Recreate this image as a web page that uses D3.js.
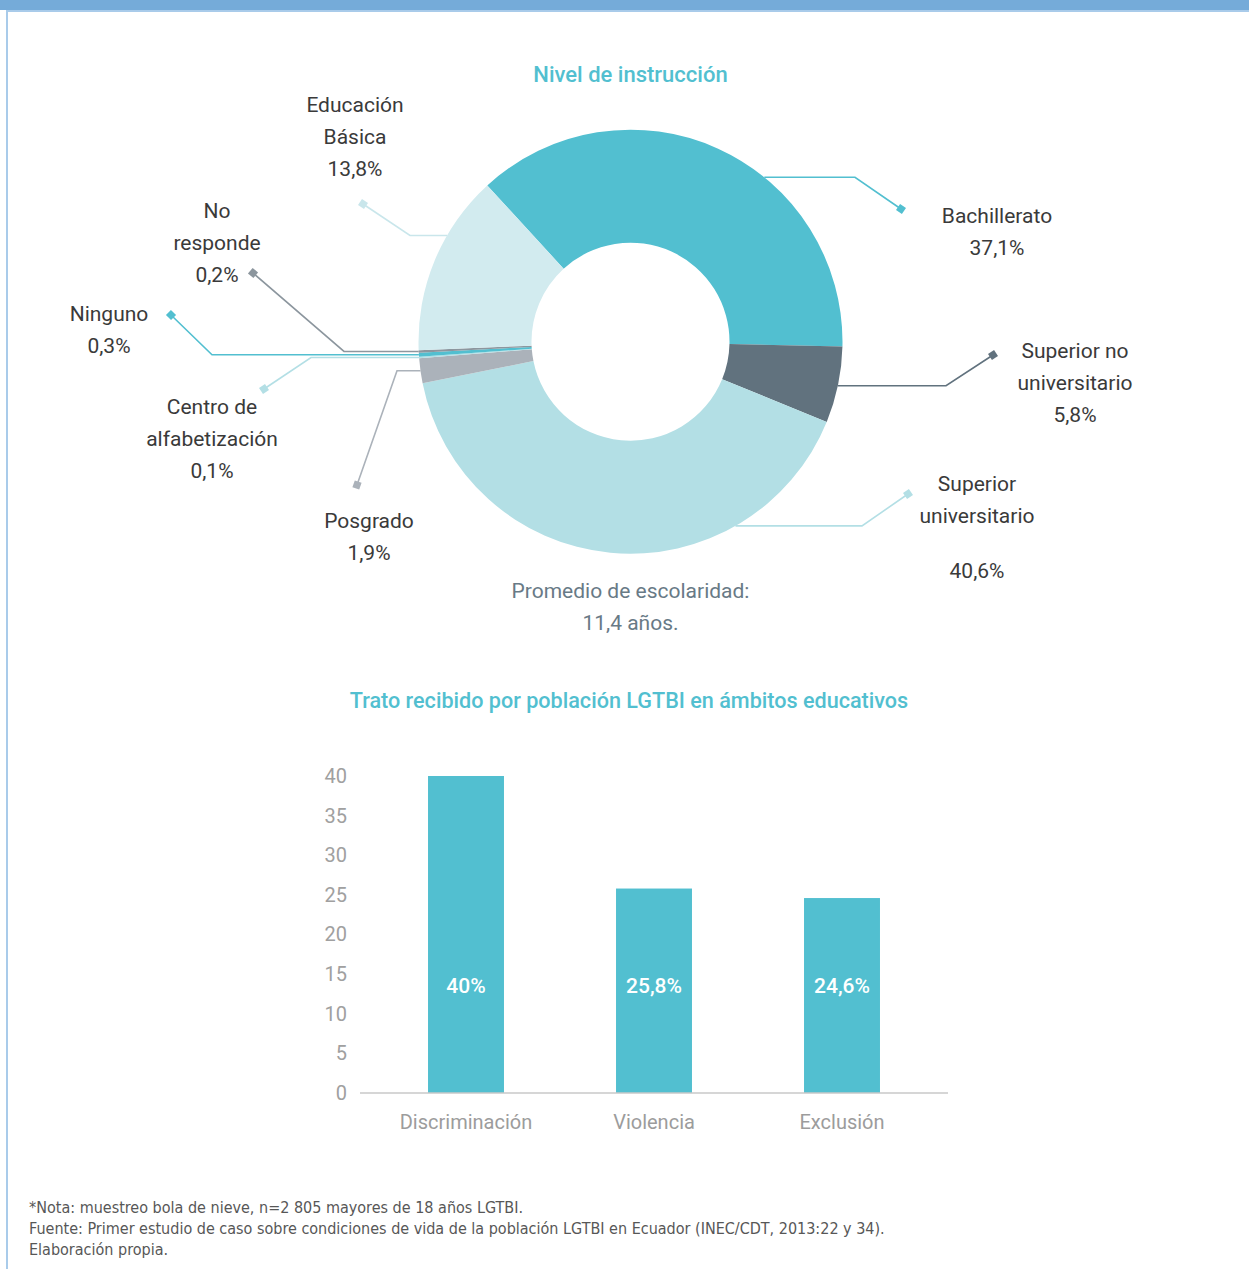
<!DOCTYPE html>
<html lang="es">
<head>
<meta charset="utf-8">
<title>Nivel de instrucción y trato recibido por población LGTBI</title>
<script src="https://cdn.jsdelivr.net/npm/d3@7/dist/d3.min.js"></script>
<style>
  html, body { margin: 0; padding: 0; background: #ffffff; }
  svg { display: block; }
  text { font-family: Roboto, "Noto Sans", "DejaVu Sans", sans-serif; }
  .foot { font-family: "Liberation Sans Narrow", "DejaVu Sans Condensed", "Liberation Sans", sans-serif; }
</style>
</head>
<body>
<svg id="chart" width="1249" height="1269"></svg>
<script>
// ---- Nivel de instrucción (porcentaje) ----
const levelNames = [
  "Bachillerato",
  "Superior no universitario",
  "Superior universitario",
  "Posgrado",
  "Centro de alfabetización",
  "Ninguno",
  "No responde",
  "Educación Básica"
];
const levelShares = [37.1, 5.8, 40.6, 1.9, 0.1, 0.3, 0.2, 13.8];
const levelLabelLines = [
  ["Bachillerato"],
  ["Superior no", "universitario"],
  ["Superior", "universitario"],
  ["Posgrado"],
  ["Centro de", "alfabetización"],
  ["Ninguno"],
  ["No", "responde"],
  ["Educación", "Básica"]
];
const averageSchooling = ["Promedio de escolaridad:", "11,4 años."];

// ---- Trato recibido en ámbitos educativos (porcentaje) ----
const treatmentCategories = ["Discriminación", "Violencia", "Exclusión"];
const treatmentValues = [40, 25.8, 24.6];
const yTickValues = [0, 5, 10, 15, 20, 25, 30, 35, 40];

const footnotes = [
  "*Nota: muestreo bola de nieve, n=2 805 mayores de 18 años LGTBI.",
  "Fuente: Primer estudio de caso sobre condiciones de vida de la población LGTBI en Ecuador (INEC/CDT, 2013:22 y 34).",
  "Elaboración propia."
];

// ---- styling ----
const sliceColors = ["#52bfd0", "#61727e", "#b3dfe5", "#abb2ba", "#b3dfe5", "#52bfd0", "#8c969e", "#d2ebef"];
const leaderColors = ["#52bfd0", "#61727e", "#b3dfe5", "#abb2ba", "#b3dfe5", "#52bfd0", "#8c969e", "#c9e6eb"];
const fmt = v => d3.format(".1f")(v).replace(".", ",") + "%";

// label placement around the donut: where the leader leaves the slice (fraction of its arc),
// where it bends, where it ends, and where the text block sits
const labelLayout = [
  { t: 0.61, elbowX: 855, end: [901, 209], text: [997, 216], gap: 0 },
  { t: 0.51, elbowX: 946, end: [993, 355], text: [1075, 351], gap: 0 },
  { t: 0.26, elbowX: 862, end: [908, 494], text: [977, 484], gap: 23 },
  { t: 0.50, elbowX: 397, end: [357, 485], text: [369, 521], gap: 0 },
  { t: 0.50, elbowX: 311, end: [264, 389], text: [212, 407], gap: 0 },
  { t: 0.50, elbowX: 212, end: [171, 315], text: [109, 314], gap: 0 },
  { t: 0.50, elbowX: 344, end: [253, 273], text: [217, 211], gap: 0 },
  { t: 0.65, elbowX: 410, end: [363, 204], text: [355, 105], gap: 0 }
];

const svg = d3.select("#chart");

// page frame
svg.append("rect").attr("x", 0).attr("y", 0).attr("width", 1249).attr("height", 10).attr("fill", "#75abd9");
svg.append("rect").attr("x", 6).attr("y", 10).attr("width", 1243).attr("height", 2).attr("fill", "#a9cbea");
svg.append("rect").attr("x", 6).attr("y", 10).attr("width", 2).attr("height", 1259).attr("fill", "#a9cbea");

// ================= Donut =================
const cx = 630.5, cy = 341.7, rOuter = 212, rInner = 99;
const pie = d3.pie().sort(null).value(d => d)
  .startAngle(-42.5 * Math.PI / 180)
  .endAngle((360 - 42.5) * Math.PI / 180);
const arcs = pie(levelShares);
const arc = d3.arc().innerRadius(rInner).outerRadius(rOuter);

svg.append("text")
  .attr("x", cx).attr("y", 74).attr("dy", "0.35em")
  .attr("text-anchor", "middle")
  .attr("fill", "#52bfd0").attr("font-size", 22).attr("font-weight", 500)
  .text("Nivel de instrucción");

const donut = svg.append("g").attr("transform", `translate(${cx},${cy})`);
donut.selectAll("path.slice").data(arcs).enter().append("path")
  .attr("class", "slice")
  .attr("d", arc)
  .attr("fill", (d, i) => sliceColors[i]);

// leaders and labels
const leaders = svg.append("g");
arcs.forEach((a, i) => {
  const L = labelLayout[i];
  const ang = a.startAngle + L.t * (a.endAngle - a.startAngle);
  const sx = cx + rOuter * Math.sin(ang);
  const sy = cy - rOuter * Math.cos(ang);
  const [ex, ey] = L.end;
  const col = leaderColors[i];
  leaders.append("path")
    .attr("d", d3.line()([[sx, sy], [L.elbowX, sy], [ex, ey]]))
    .attr("fill", "none").attr("stroke", col).attr("stroke-width", 1.6);
  const rot = Math.atan2(ey - sy, ex - L.elbowX) * 180 / Math.PI;
  leaders.append("rect")
    .attr("x", -3.6).attr("y", -3.6).attr("width", 7.2).attr("height", 7.2)
    .attr("fill", col)
    .attr("transform", `translate(${ex},${ey}) rotate(${rot})`);

  const lines = levelLabelLines[i].concat([fmt(levelShares[i])]);
  const txt = svg.append("text")
    .attr("text-anchor", "middle")
    .attr("fill", "#3a3a3a").attr("font-size", 21);
  lines.forEach((ln, k) => {
    const extra = (k === lines.length - 1) ? L.gap : 0;
    txt.append("tspan")
      .attr("x", L.text[0])
      .attr("y", L.text[1] + k * 32 + extra)
      .attr("dy", "0.35em")
      .text(ln);
  });
});

averageSchooling.forEach((ln, k) => {
  svg.append("text")
    .attr("x", cx).attr("y", 591 + k * 32).attr("dy", "0.35em")
    .attr("text-anchor", "middle")
    .attr("fill", "#687a86").attr("font-size", 21)
    .text(ln);
});

// ================= Bars =================
svg.append("text")
  .attr("x", 629).attr("y", 700).attr("dy", "0.35em")
  .attr("text-anchor", "middle")
  .attr("fill", "#52bfd0").attr("font-size", 21.6).attr("font-weight", 500)
  .text("Trato recibido por población LGTBI en ámbitos educativos");

const x = d3.scaleBand()
  .domain(treatmentCategories)
  .range([372, 936])
  .paddingInner(0.596)
  .paddingOuter(0.298);
const y = d3.scaleLinear().domain([0, 40]).range([1093, 776]);

// y tick labels
const yAxis = d3.axisLeft(y).tickValues(yTickValues).tickSize(0).tickPadding(0).tickFormat(d3.format("d"));
const yG = svg.append("g").attr("transform", "translate(347,0)").call(yAxis);
yG.select(".domain").remove();
yG.selectAll("text")
  .attr("fill", "#a0a0a0").attr("font-size", 20)
  .attr("font-family", "Roboto, 'Noto Sans', sans-serif");

// bars
svg.selectAll("rect.bar").data(treatmentValues).enter().append("rect")
  .attr("class", "bar")
  .attr("x", (d, i) => x(treatmentCategories[i]))
  .attr("width", x.bandwidth())
  .attr("y", d => y(d))
  .attr("height", d => y(0) - y(d))
  .attr("fill", "#52bfd0");

// value labels inside bars
const labelLevel = 13.6;
svg.selectAll("text.val").data(treatmentValues).enter().append("text")
  .attr("class", "val")
  .attr("x", (d, i) => x(treatmentCategories[i]) + x.bandwidth() / 2)
  .attr("y", y(labelLevel)).attr("dy", "0.35em")
  .attr("text-anchor", "middle")
  .attr("fill", "#ffffff").attr("font-size", 21).attr("font-weight", 500)
  .text(d => (d % 1 === 0 ? d3.format("d")(d) + "%" : fmt(d)));

// baseline
svg.append("line")
  .attr("x1", 360).attr("x2", 948)
  .attr("y1", y(0)).attr("y2", y(0))
  .attr("stroke", "#c8c8c8").attr("stroke-width", 1.5);

// category labels
const xAxis = d3.axisBottom(x).tickSize(0).tickPadding(0);
const xG = svg.append("g").attr("transform", `translate(0,${y(0)})`).call(xAxis);
xG.select(".domain").remove();
xG.selectAll("text")
  .attr("y", 29).attr("dy", "0.35em")
  .attr("fill", "#9c9c9c").attr("font-size", 20)
  .attr("font-family", "Roboto, 'Noto Sans', sans-serif");

// ================= Footnotes =================
footnotes.forEach((ln, k) => {
  svg.append("text")
    .attr("class", "foot")
    .attr("x", 29).attr("y", 1207 + k * 21).attr("dy", "0.35em")
    .attr("fill", "#575757").attr("font-size", 16)
    .text(ln);
});
</script>
</body>
</html>
